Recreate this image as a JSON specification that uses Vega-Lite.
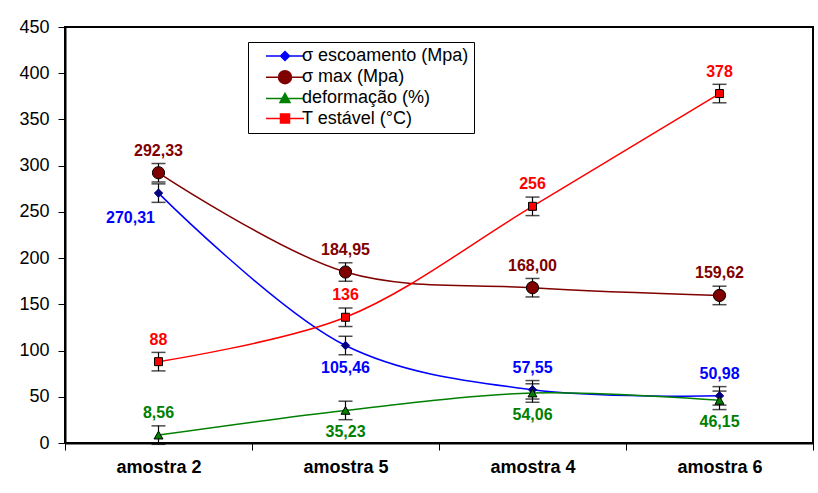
{
  "$schema": "https://vega.github.io/schema/vega-lite/v6.json",
  "width": 748,
  "height": 416,
  "autosize": "none",
  "padding": {"left": 65, "top": 27, "right": 5, "bottom": 50},
  "background": "white",
  "config": {
    "font": "Liberation Sans",
    "view": {"stroke": "black", "strokeWidth": 2}
  },
  "data": {
    "values": [
      {"sample": "amostra 2", "series": "σ escoamento (Mpa)", "value": 270.31, "lo": 260.31, "hi": 280.31, "label": "270,31", "pos": "belowleft"},
      {"sample": "amostra 5", "series": "σ escoamento (Mpa)", "value": 105.46, "lo": 95.46, "hi": 115.46, "label": "105,46", "pos": "below"},
      {"sample": "amostra 4", "series": "σ escoamento (Mpa)", "value": 57.55, "lo": 47.55, "hi": 67.55, "label": "57,55", "pos": "above"},
      {"sample": "amostra 6", "series": "σ escoamento (Mpa)", "value": 50.98, "lo": 40.98, "hi": 60.98, "label": "50,98", "pos": "above"},
      {"sample": "amostra 2", "series": "σ max (Mpa)", "value": 292.33, "lo": 282.33, "hi": 302.33, "label": "292,33", "pos": "above"},
      {"sample": "amostra 5", "series": "σ max (Mpa)", "value": 184.95, "lo": 174.95, "hi": 194.95, "label": "184,95", "pos": "above"},
      {"sample": "amostra 4", "series": "σ max (Mpa)", "value": 168.0, "lo": 158.0, "hi": 178.0, "label": "168,00", "pos": "above"},
      {"sample": "amostra 6", "series": "σ max (Mpa)", "value": 159.62, "lo": 149.62, "hi": 169.62, "label": "159,62", "pos": "above"},
      {"sample": "amostra 2", "series": "deformação (%)", "value": 8.56, "lo": -1.44, "hi": 18.56, "label": "8,56", "pos": "above"},
      {"sample": "amostra 5", "series": "deformação (%)", "value": 35.23, "lo": 25.23, "hi": 45.23, "label": "35,23", "pos": "below"},
      {"sample": "amostra 4", "series": "deformação (%)", "value": 54.06, "lo": 44.06, "hi": 64.06, "label": "54,06", "pos": "below"},
      {"sample": "amostra 6", "series": "deformação (%)", "value": 46.15, "lo": 36.15, "hi": 56.15, "label": "46,15", "pos": "below"},
      {"sample": "amostra 2", "series": "T estável (°C)", "value": 88, "lo": 78, "hi": 98, "label": "88", "pos": "above"},
      {"sample": "amostra 5", "series": "T estável (°C)", "value": 136, "lo": 126, "hi": 146, "label": "136", "pos": "above"},
      {"sample": "amostra 4", "series": "T estável (°C)", "value": 256, "lo": 246, "hi": 266, "label": "256", "pos": "above"},
      {"sample": "amostra 6", "series": "T estável (°C)", "value": 378, "lo": 368, "hi": 388, "label": "378", "pos": "above"}
    ]
  },
  "encoding": {
    "x": {
      "field": "sample",
      "type": "nominal",
      "sort": ["amostra 2", "amostra 5", "amostra 4", "amostra 6"],
      "scale": {"paddingInner": 0, "paddingOuter": 0},
      "axis": {
        "title": null,
        "labelAngle": 0,
        "labelFont": "Liberation Sans",
        "labelFontSize": 18,
        "labelFontWeight": "bold",
        "labelColor": "black",
        "labelPadding": 8,
        "tickBand": "extent",
        "tickSize": 7,
        "tickColor": "black",
        "tickWidth": 1,
        "domainColor": "black",
        "domainWidth": 2,
        "grid": false
      }
    },
    "y": {
      "field": "value",
      "type": "quantitative",
      "scale": {"domain": [0, 450], "nice": false},
      "axis": {
        "title": null,
        "values": [0, 50, 100, 150, 200, 250, 300, 350, 400, 450],
        "grid": false,
        "labelFontSize": 18,
        "labelColor": "black",
        "labelPadding": 9,
        "tickSize": 7,
        "tickColor": "black",
        "domainColor": "black",
        "domainWidth": 2
      }
    }
  },
  "layer": [
    {
      "mark": {"type": "line", "interpolate": "catmull-rom", "strokeWidth": 1.5},
      "encoding": {
        "color": {
          "field": "series",
          "type": "nominal",
          "scale": {
            "domain": ["σ escoamento (Mpa)", "σ max (Mpa)", "deformação (%)", "T estável (°C)"],
            "range": ["#0000FF", "#800000", "#008000", "#FF0000"]
          },
          "legend": {
            "title": null,
            "orient": "none",
            "legendX": 183,
            "legendY": 15,
            "padding": 5,
            "fillColor": "white",
            "strokeColor": "black",
            "labelFontSize": 18,
            "labelLimit": 400,
            "labelColor": "black",
            "labelOffset": 8,
            "symbolOffset": 23,
            "symbolSize": 100,
            "rowPadding": 2.2,
            "encode": {
              "symbols": {
                "update": {
                  "shape": {"signal": "datum.value === 'σ escoamento (Mpa)' ? 'M-3.8,0H3.8M0,-0.9L0.9,0L0,0.9L-0.9,0Z' : datum.value === 'σ max (Mpa)' ? 'M-3.8,0H3.8M-1.3,0A1.3,1.3,0,1,1,1.3,0A1.3,1.3,0,1,1,-1.3,0Z' : datum.value === 'deformação (%)' ? 'M-3.8,0H3.8M0,-1L1,0.8L-1,0.8Z' : 'M-3.8,0H3.8M-0.9,-0.9H0.9V0.9H-0.9Z'"},
                  "fill": {"signal": "datum.value === 'σ escoamento (Mpa)' ? '#000080' : datum.value === 'σ max (Mpa)' ? '#800000' : datum.value === 'deformação (%)' ? '#008000' : '#FF0000'"},
                  "stroke": {"signal": "datum.value === 'σ escoamento (Mpa)' ? '#0000FF' : datum.value === 'σ max (Mpa)' ? '#800000' : datum.value === 'deformação (%)' ? '#008000' : '#FF0000'"},
                  "strokeWidth": {"value": 1.5},
                  "opacity": {"value": 1}
                }
              }
            }
          }
        }
      }
    },
    {
      "mark": {"type": "rule", "color": "black", "strokeWidth": 1.2},
      "encoding": {
        "y": {"field": "lo", "type": "quantitative"},
        "y2": {"field": "hi"}
      }
    },
    {
      "mark": {"type": "tick", "color": "black", "size": 14, "thickness": 1.5, "orient": "horizontal"},
      "encoding": {"y": {"field": "lo", "type": "quantitative"}}
    },
    {
      "mark": {"type": "tick", "color": "black", "size": 14, "thickness": 1.5, "orient": "horizontal"},
      "encoding": {"y": {"field": "hi", "type": "quantitative"}}
    },
    {
      "transform": [{"filter": "datum.series === 'σ escoamento (Mpa)'"}],
      "mark": {"type": "point", "shape": "diamond", "size": 70, "filled": true, "opacity": 1, "fill": "#000080", "stroke": "#000080", "strokeWidth": 1}
    },
    {
      "transform": [{"filter": "datum.series === 'σ max (Mpa)'"}],
      "mark": {"type": "point", "shape": "circle", "size": 150, "filled": true, "opacity": 1, "fill": "#800000", "stroke": "black", "strokeWidth": 1}
    },
    {
      "transform": [{"filter": "datum.series === 'deformação (%)'"}],
      "mark": {"type": "point", "shape": "triangle-up", "size": 80, "filled": true, "opacity": 1, "fill": "#008000", "stroke": "black", "strokeWidth": 1}
    },
    {
      "transform": [{"filter": "datum.series === 'T estável (°C)'"}],
      "mark": {"type": "point", "shape": "square", "size": 64, "filled": true, "opacity": 1, "fill": "#FF0000", "stroke": "black", "strokeWidth": 1}
    },
    {
      "transform": [{"filter": "datum.pos === 'above'"}],
      "mark": {"type": "text", "fontSize": 16, "fontWeight": "bold", "dy": -22, "baseline": "middle"},
      "encoding": {
        "text": {"field": "label"},
        "color": {"field": "series", "type": "nominal"}
      }
    },
    {
      "transform": [{"filter": "datum.pos === 'below'"}],
      "mark": {"type": "text", "fontSize": 16, "fontWeight": "bold", "dy": 22, "baseline": "middle"},
      "encoding": {
        "text": {"field": "label"},
        "color": {"field": "series", "type": "nominal"}
      }
    },
    {
      "transform": [{"filter": "datum.pos === 'belowleft'"}],
      "mark": {"type": "text", "fontSize": 16, "fontWeight": "bold", "dx": -28, "dy": 25, "baseline": "middle"},
      "encoding": {
        "text": {"field": "label"},
        "color": {"field": "series", "type": "nominal"}
      }
    }
  ]
}
